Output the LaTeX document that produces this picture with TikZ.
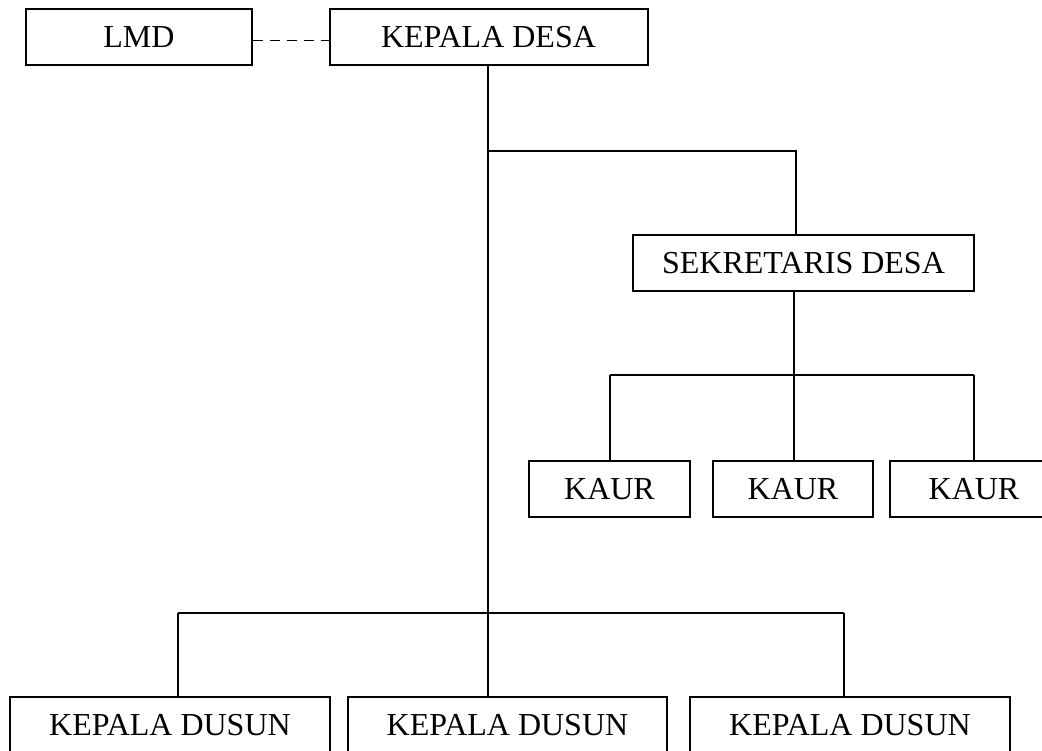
\documentclass[tikz,border=0pt]{standalone}
\usepackage{fontspec}
\setmainfont{Liberation Serif}
\begin{document}
\begin{tikzpicture}[x=1pt,y=-1pt,
  box/.style={draw, line width=2pt, rectangle, inner sep=0pt, minimum height=56pt, font=\fontsize{32}{36}\selectfont},
  link/.style={line width=1.6pt},
  dashlink/.style={line width=1.6pt, dash pattern=on 10.4pt off 6.5pt}]
\useasboundingbox (0,0) rectangle (1042,751);
\clip (0,0) rectangle (1042,751);
% boxes
\node[box, minimum width=226pt] (lmd) at (139,37) {LMD};
\node[box, minimum width=318pt] (kd) at (488.5,37) {KEPALA DESA};
\node[box, minimum width=341pt] (sd) at (803.5,263) {SEKRETARIS DESA};
\node[box, minimum width=161pt] (k1) at (609.5,489) {KAUR};
\node[box, minimum width=160pt] (k2) at (793,489) {KAUR};
\node[box, minimum width=168pt] (k3) at (974,489) {KAUR};
\node[box, minimum width=320pt] (d1) at (170,725) {KEPALA DUSUN};
\node[box, minimum width=319pt] (d2) at (507.5,725) {KEPALA DUSUN};
\node[box, minimum width=320pt] (d3) at (850,725) {KEPALA DUSUN};
% junctions
\coordinate (j1) at (488,151);
\coordinate (j1e) at (796,151);
\coordinate (j2) at (488,613);
\coordinate (s1) at (794,375);
\coordinate (bl) at (610,375);
\coordinate (br) at (974,375);
\coordinate (dl) at (178,613);
\coordinate (dr) at (844,613);
% connectors
\draw[dashlink] ([yshift=-3.7pt]lmd.east) -- ([yshift=-3.7pt]kd.west);
\draw[link] (j1 |- kd.south) -- (j2);
\draw[link] (j1) -- (j1e) -- (j1e |- sd.north);
\draw[link] (s1 |- sd.south) -- (s1);
\draw[link] (bl) -- (br);
\draw[link] (bl) -- (bl |- k1.north);
\draw[link] (s1) -- (s1 |- k2.north);
\draw[link] (br) -- (br |- k3.north);
\draw[link] (dl) -- (dr);
\draw[link] (dl) -- (dl |- d1.north);
\draw[link] (j2) -- (j2 |- d2.north);
\draw[link] (dr) -- (dr |- d3.north);
\end{tikzpicture}
\end{document}
